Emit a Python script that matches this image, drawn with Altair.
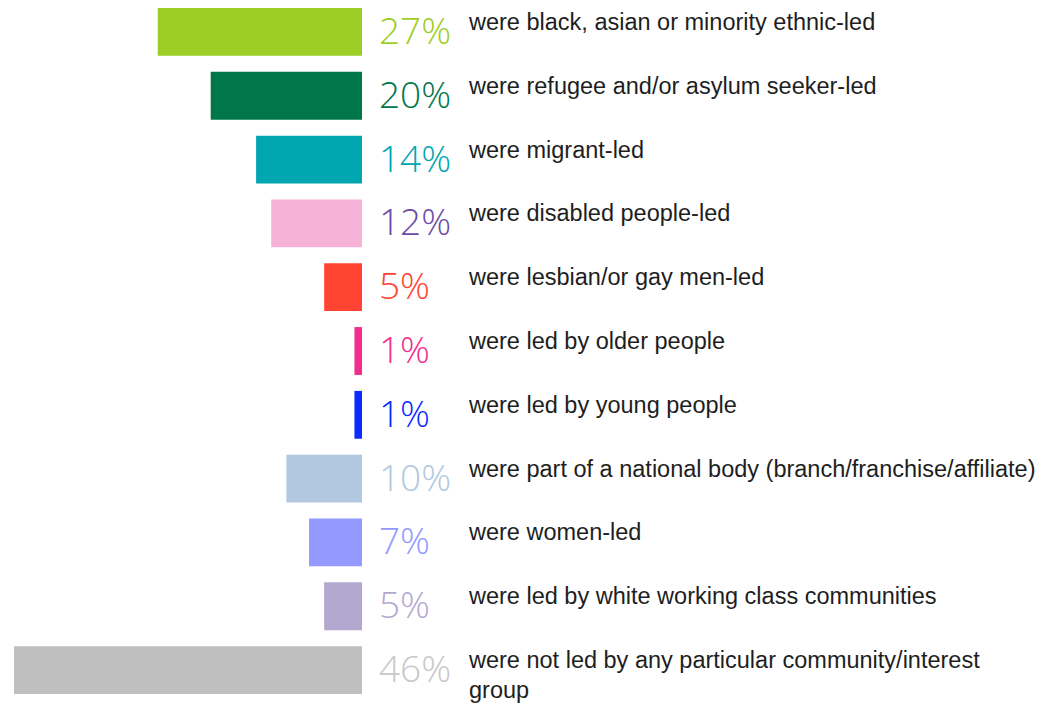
import altair as alt
import pandas as pd

labels = [
    "were black, asian or minority ethnic-led",
    "were refugee and/or asylum seeker-led",
    "were migrant-led",
    "were disabled people-led",
    "were lesbian/or gay men-led",
    "were led by older people",
    "were led by young people",
    "were part of a national body (branch/franchise/affiliate)",
    "were women-led",
    "were led by white working class communities",
    "were not led by any particular community/interest\ngroup",
]
values = [27, 20, 14, 12, 5, 1, 1, 10, 7, 5, 46]
bar_colors = ["#9DCE25", "#00774A", "#00A6B0", "#F7B3D7", "#FF4433", "#F22E8C",
              "#0A2CFF", "#B2C8E0", "#9499FF", "#B3A8D0", "#BFBFBF"]
text_colors = ["#9DCE25", "#00774A", "#00A6B0", "#6A4BA8", "#FF4433", "#F22E8C",
               "#0A2CFF", "#B2C8E0", "#9499FF", "#B3A8D0", "#C8C8C8"]

df = pd.DataFrame({
    "row": list(range(len(labels))),
    "label": labels,
    "value": values,
    "neg": [-v for v in values],
    "pct": [f"{v}%" for v in values],
    "bar_color": bar_colors,
    "text_color": text_colors,
})

y = alt.Y("row:O", axis=None, scale=alt.Scale(paddingInner=0.25, paddingOuter=0))
xscale = alt.Scale(domain=[-46, 0], nice=False, zero=False)

base = alt.Chart(df).encode(y=y)

bars = base.mark_bar().encode(
    x=alt.X("neg:Q", scale=xscale, axis=None),
    x2=alt.datum(0),
    color=alt.Color("bar_color:N", scale=None),
)

pct = base.mark_text(
    align="left", baseline="alphabetic", dx=17, dy=12,
    fontSize=37, font="Open Sans", fontWeight=300,
).encode(
    x=alt.datum(0),
    text="pct:N",
    color=alt.Color("text_color:N", scale=None),
)

desc = base.mark_text(
    align="left", baseline="alphabetic", dx=107, dy=-2,
    fontSize=23.5, font="Liberation Sans", lineBreak="\n", lineHeight=30,
    color="#1E1E1E",
).encode(
    x=alt.datum(0),
    text="label:N",
)

chart = alt.layer(bars, pct, desc).properties(
    width=348, height=686,
    padding={"left": 6, "top": 0, "right": 5, "bottom": 5},
).configure_view(stroke=None)

chart.save("out.html", embed_options={"renderer": "svg", "actions": False})
